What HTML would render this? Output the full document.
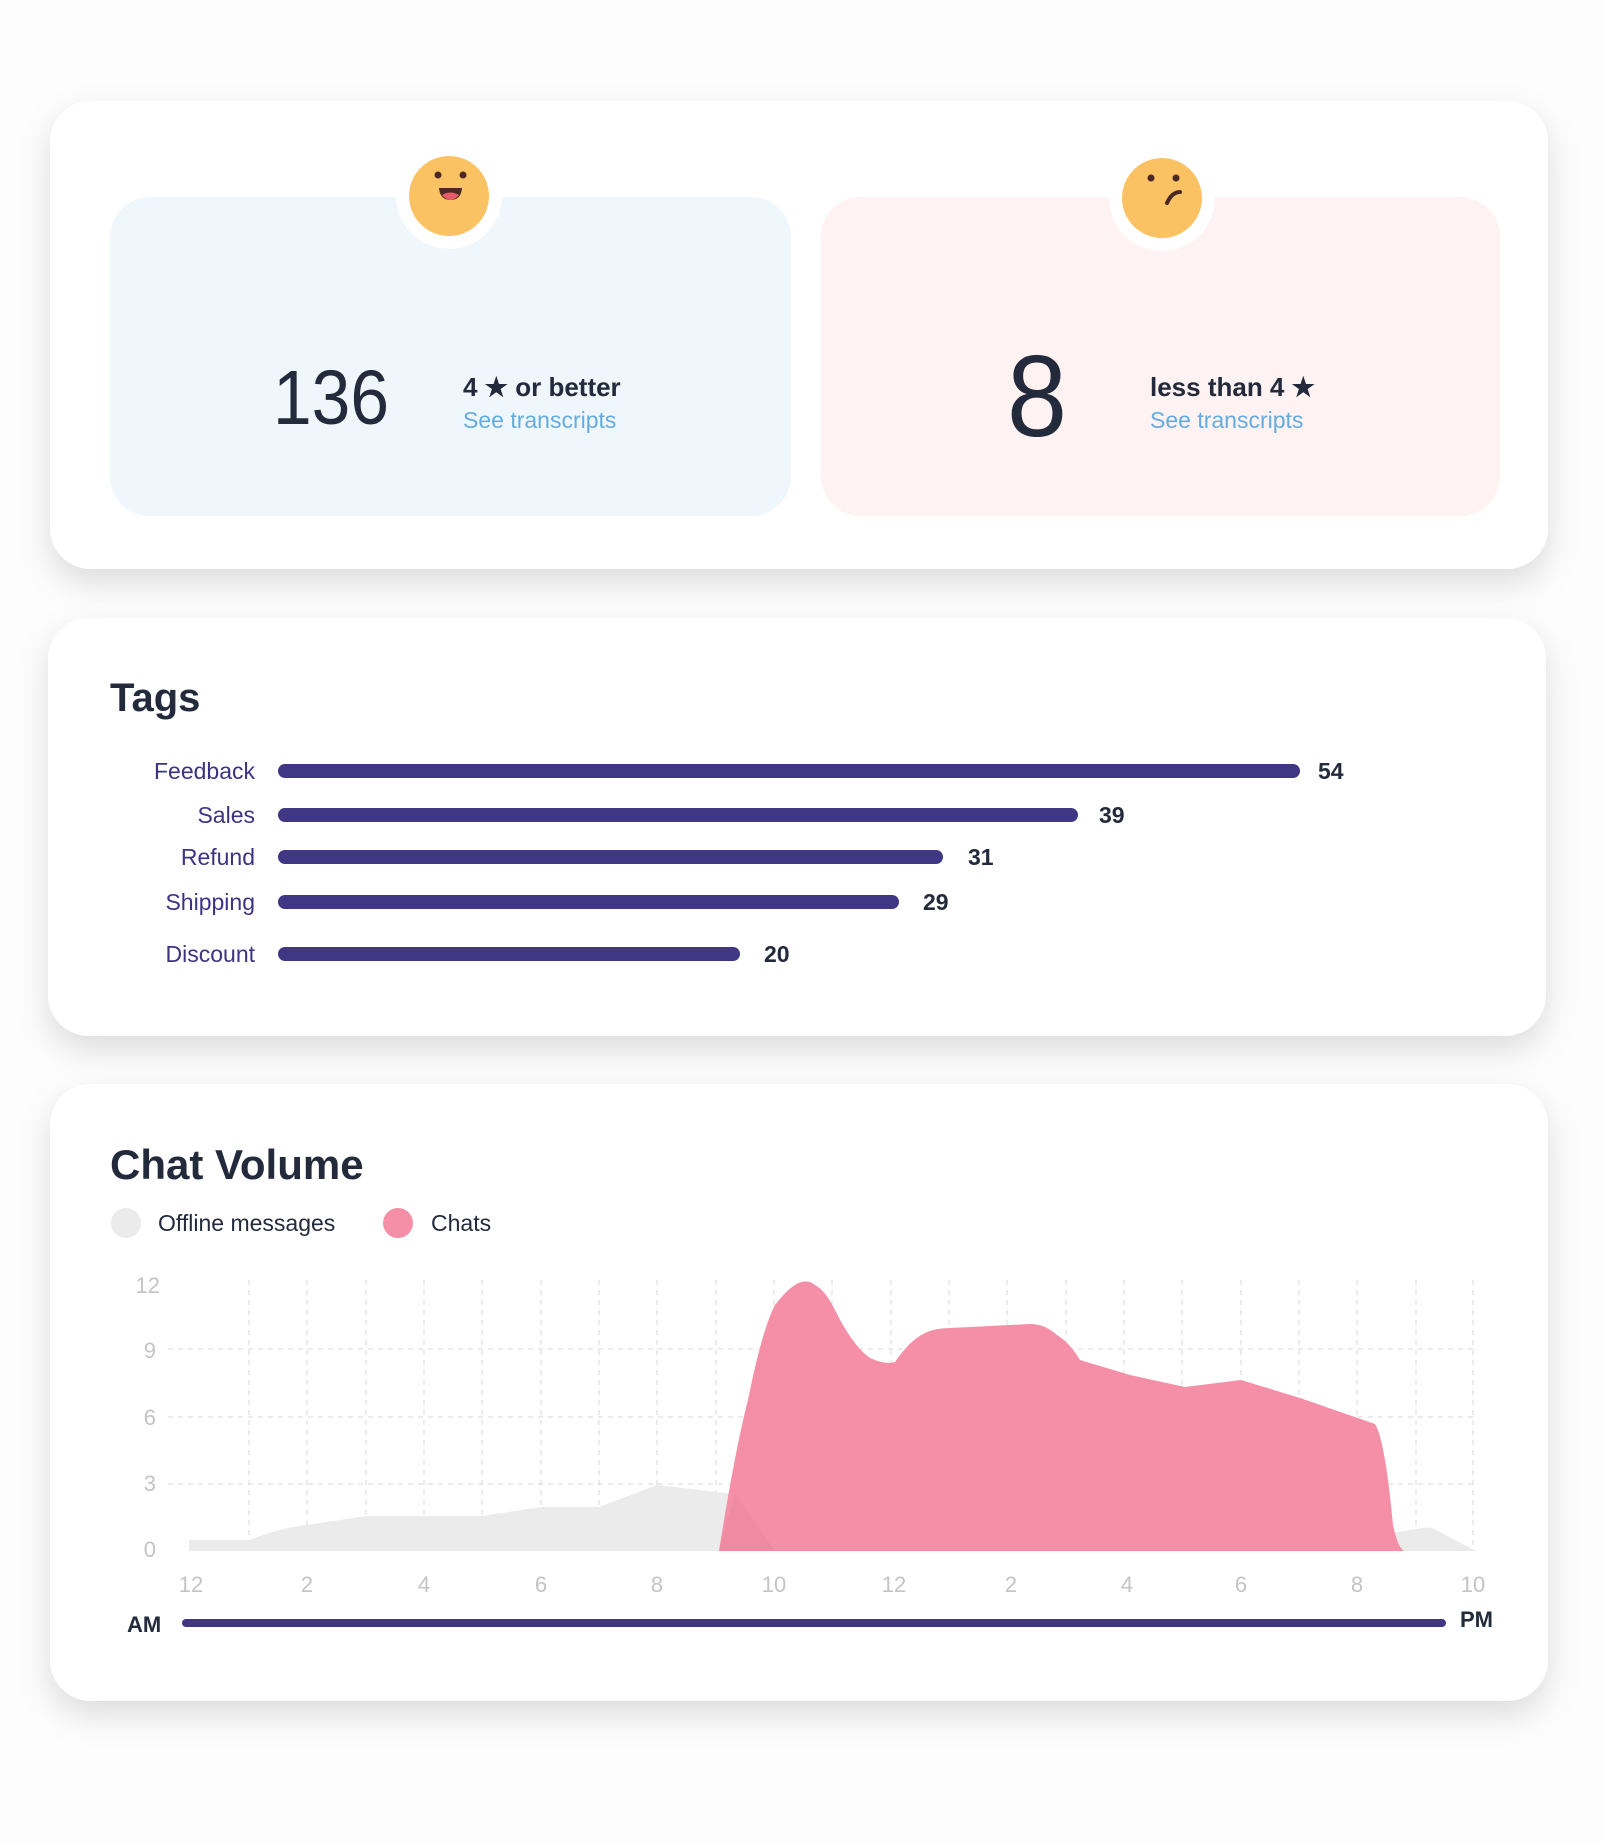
<!DOCTYPE html>
<html><head><meta charset="utf-8"><style>
html,body{margin:0;padding:0;background:#fdfdfd;}
body{width:1602px;height:1842px;overflow:hidden;}
svg{display:block;font-family:"Liberation Sans",sans-serif;}
</style></head><body>
<svg width="1602" height="1842" viewBox="0 0 1602 1842" xmlns="http://www.w3.org/2000/svg">
<defs>
<filter id="sh" x="-10%" y="-20%" width="120%" height="150%">
<feDropShadow dx="0" dy="14" stdDeviation="16" flood-color="#000" flood-opacity="0.13"/>
</filter>
</defs>
<!-- cards -->
<rect x="50" y="101" width="1498" height="468" rx="41" fill="#fff" filter="url(#sh)"/>
<rect x="48" y="618" width="1498" height="418" rx="41" fill="#fff" filter="url(#sh)"/>
<rect x="50" y="1084" width="1498" height="617" rx="41" fill="#fff" filter="url(#sh)"/>

<!-- rating boxes -->
<rect x="110" y="197" width="681" height="319" rx="40" fill="#eff7fc"/>
<rect x="821" y="197" width="679" height="319" rx="40" fill="#fef2f2"/>
<circle cx="449" cy="196" r="53" fill="#fff"/>
<circle cx="1162" cy="198" r="53" fill="#fff"/>
<circle cx="449" cy="196" r="40" fill="#fbc264"/>
<circle cx="438" cy="175" r="3.5" fill="#4a2a22"/>
<circle cx="463" cy="175" r="3.5" fill="#4a2a22"/>
<path d="M439 188 L462 188 Q461 200 450.5 200 Q440 200 439 188 Z" fill="#4a2a22"/>
<path d="M442 195 Q450.5 190 459 195 Q455 200 450.5 200 Q446 200 442 195 Z" fill="#e35b6a"/>
<circle cx="1162" cy="198" r="40" fill="#fbc264"/>
<circle cx="1151" cy="178" r="3.5" fill="#4a2a22"/>
<circle cx="1176" cy="178" r="3.5" fill="#4a2a22"/>
<path d="M1167 203 Q1172 192 1180 192" stroke="#4a2a22" stroke-width="4" fill="none" stroke-linecap="round"/>
<path d="M1167 203 L1167 203" stroke="#4a2a22" stroke-width="4"/>

<text x="273" y="424" font-size="77" fill="#232a3b" font-weight="normal" textLength="116" lengthAdjust="spacingAndGlyphs">136</text>
<text x="463" y="396" font-size="26" font-weight="bold" fill="#232a3b">4 ★ or better</text>
<text x="463" y="428" font-size="23" fill="#64ace0">See transcripts</text>
<text x="1007" y="436" font-size="116" fill="#232a3b" textLength="60" lengthAdjust="spacingAndGlyphs">8</text>
<text x="1150" y="396" font-size="26" font-weight="bold" fill="#232a3b">less than 4 ★</text>
<text x="1150" y="428" font-size="23" fill="#64ace0">See transcripts</text>

<!-- Tags -->
<text x="110" y="711" font-size="40" font-weight="bold" fill="#232a3b">Tags</text>
<g font-size="23" fill="#3b3483" text-anchor="end">
<text x="255" y="779">Feedback</text>
<text x="255" y="823">Sales</text>
<text x="255" y="865">Refund</text>
<text x="255" y="910">Shipping</text>
<text x="255" y="962">Discount</text>
</g>
<g stroke="#3f3684" stroke-width="14" stroke-linecap="round">
<line x1="285" y1="771" x2="1293" y2="771"/>
<line x1="285" y1="815" x2="1071" y2="815"/>
<line x1="285" y1="857" x2="936" y2="857"/>
<line x1="285" y1="902" x2="892" y2="902"/>
<line x1="285" y1="954" x2="733" y2="954"/>
</g>
<g font-size="23" font-weight="bold" fill="#232a3b">
<text x="1318" y="779">54</text>
<text x="1099" y="823">39</text>
<text x="968" y="865">31</text>
<text x="923" y="910">29</text>
<text x="764" y="962">20</text>
</g>

<!-- Chat volume -->
<text x="110" y="1179" font-size="42" font-weight="bold" fill="#232a3b">Chat Volume</text>
<circle cx="126" cy="1223" r="15" fill="#ebebeb"/>
<text x="158" y="1231" font-size="23" fill="#232a3b">Offline messages</text>
<circle cx="398" cy="1223" r="15" fill="#f48fa7"/>
<text x="431" y="1231" font-size="23" fill="#232a3b">Chats</text>

<!-- grid -->
<g stroke="#d8d8d8" stroke-width="1" stroke-dasharray="5,5">
<line x1="168" y1="1286" x2="1478" y2="1286" stroke="none"/>
<line x1="168" y1="1349" x2="1478" y2="1349"/>
<line x1="168" y1="1417" x2="1478" y2="1417"/>
<line x1="168" y1="1484" x2="1478" y2="1484"/>
<line x1="249" y1="1280" x2="249" y2="1551"/>
<line x1="307" y1="1280" x2="307" y2="1551"/>
<line x1="366" y1="1280" x2="366" y2="1551"/>
<line x1="424" y1="1280" x2="424" y2="1551"/>
<line x1="482" y1="1280" x2="482" y2="1551"/>
<line x1="541" y1="1280" x2="541" y2="1551"/>
<line x1="599" y1="1280" x2="599" y2="1551"/>
<line x1="657" y1="1280" x2="657" y2="1551"/>
<line x1="716" y1="1280" x2="716" y2="1551"/>
<line x1="774" y1="1280" x2="774" y2="1551"/>
<line x1="832" y1="1280" x2="832" y2="1551"/>
<line x1="891" y1="1280" x2="891" y2="1551"/>
<line x1="949" y1="1280" x2="949" y2="1551"/>
<line x1="1007" y1="1280" x2="1007" y2="1551"/>
<line x1="1066" y1="1280" x2="1066" y2="1551"/>
<line x1="1124" y1="1280" x2="1124" y2="1551"/>
<line x1="1182" y1="1280" x2="1182" y2="1551"/>
<line x1="1241" y1="1280" x2="1241" y2="1551"/>
<line x1="1299" y1="1280" x2="1299" y2="1551"/>
<line x1="1357" y1="1280" x2="1357" y2="1551"/>
<line x1="1416" y1="1280" x2="1416" y2="1551"/>
<line x1="1473" y1="1280" x2="1473" y2="1551"/>
</g>
<g font-size="22" fill="#c4c4c4" text-anchor="end">
<text x="160" y="1293">12</text>
<text x="156" y="1358">9</text>
<text x="156" y="1425">6</text>
<text x="156" y="1491">3</text>
<text x="156" y="1557">0</text>
</g>

<!-- offline area -->
<path d="M189 1551 L189 1540 L249 1540 Q280 1528 307 1525 L366 1516 L482 1516 L541 1507 L599 1507 L657 1485 L735 1494 L775 1551 Z" fill="#ebebeb"/>
<path d="M1220 1551 L1225 1533 L1295 1533 L1340 1537 L1390 1533 L1430 1527 L1476 1551 Z" fill="#ebebeb"/>
<!-- chats area -->
<path d="M719 1551 Q735 1450 748 1400 Q762 1330 775 1305 Q800 1272 815 1285 Q825 1290 835 1310 Q852 1345 870 1358 Q885 1365 895 1362 Q910 1340 925 1333 Q935 1328 950 1328 L1030 1324 Q1045 1324 1057 1335 Q1070 1343 1080 1360 L1130 1375 L1185 1387 L1241 1380 L1300 1398 L1375 1424 Q1385 1440 1393 1525 Q1398 1548 1404 1551 Z" fill="#f48fa7"/>
<path d="M719 1551 L735 1494 L775 1551 Z" fill="#e986a0" opacity="0.5"/>

<g font-size="22" fill="#c4c4c4" text-anchor="middle">
<text x="191" y="1592">12</text>
<text x="307" y="1592">2</text>
<text x="424" y="1592">4</text>
<text x="541" y="1592">6</text>
<text x="657" y="1592">8</text>
<text x="774" y="1592">10</text>
<text x="894" y="1592">12</text>
<text x="1011" y="1592">2</text>
<text x="1127" y="1592">4</text>
<text x="1241" y="1592">6</text>
<text x="1357" y="1592">8</text>
<text x="1473" y="1592">10</text>
</g>
<text x="127" y="1632" font-size="22" font-weight="bold" fill="#232a3b">AM</text>
<line x1="186" y1="1623" x2="1442" y2="1623" stroke="#3f3684" stroke-width="8" stroke-linecap="round"/>
<text x="1460" y="1627" font-size="22" font-weight="bold" fill="#232a3b">PM</text>
</svg>
</body></html>
